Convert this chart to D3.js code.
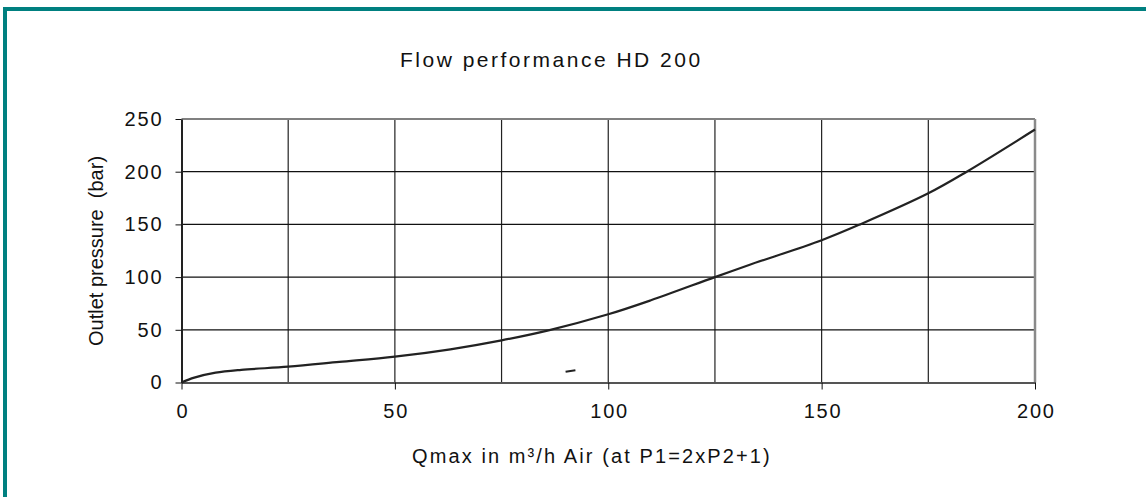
<!DOCTYPE html>
<html>
<head>
<meta charset="utf-8">
<script src="https://cdn.jsdelivr.net/npm/d3@7"></script>
<style>
  body { margin: 0; background: #fff; }
  svg text { font-family: "Liberation Sans", Arial, sans-serif; fill: #111; }
</style>
</head>
<body>
<svg id="chart" width="1146" height="497"></svg>
<script>
// flow curve
var flow = [0, 3, 8, 14, 25, 37, 50, 63, 75, 86, 100, 110, 125, 133, 150, 159, 175, 184, 200];
var pressure = [0, 4.6, 9.3, 12, 15, 19.5, 24.5, 31.5, 40, 49.5, 64.7, 78, 100, 111.5, 135, 150, 179.5, 200, 240];
// the little stray stroke under the curve
var strayFlow = [90, 92.3];
var strayPressure = [10.2, 11.6];

var xTicks = [0, 50, 100, 150, 200];
var xGrid = [25, 50, 75, 100, 125, 150, 175];
var yTicks = [0, 50, 100, 150, 200, 250];

var svg = d3.select("svg#chart"),
    margin = {top: 119, right: 111, bottom: 114.5, left: 181.5},
    width = +svg.attr("width") - margin.left - margin.right,
    height = +svg.attr("height") - margin.top - margin.bottom;

// teal frame (top and left only)
svg.append("rect").attr("x", 3).attr("y", 7).attr("width", 1143).attr("height", 4).attr("fill", "#008080");
svg.append("rect").attr("x", 3).attr("y", 7).attr("width", 4).attr("height", 490).attr("fill", "#008080");

var x = d3.scaleLinear().domain([0, 200]).range([0, width]);
var y = d3.scaleLinear().domain([0, 250]).range([height, 0]);

var g = svg.append("g")
  .attr("transform", "translate(" + margin.left + "," + margin.top + ")");

// grid
g.selectAll("line.vgrid")
  .data(xGrid)
  .enter().append("line")
  .attr("class", "vgrid")
  .attr("x1", function(d) { return x(d); })
  .attr("x2", function(d) { return x(d); })
  .attr("y1", 0).attr("y2", height)
  .attr("stroke", "#222").attr("stroke-width", 1.2);

g.selectAll("line.hgrid")
  .data(yTicks.slice(1, -1))
  .enter().append("line")
  .attr("class", "hgrid")
  .attr("y1", function(d) { return y(d); })
  .attr("y2", function(d) { return y(d); })
  .attr("x1", 0).attr("x2", width)
  .attr("stroke", "#111").attr("stroke-width", 1.2);

// plot frame
g.append("line").attr("x1", 0).attr("x2", width).attr("y1", 0).attr("y2", 0)
  .attr("stroke", "#808080").attr("stroke-width", 2);
g.append("line").attr("x1", width).attr("x2", width).attr("y1", 0).attr("y2", height)
  .attr("stroke", "#8a8a8a").attr("stroke-width", 2.5);

// axes
var xAxis = g.append("g")
  .attr("transform", "translate(0," + height + ")")
  .call(d3.axisBottom(x).tickValues(xTicks).tickSize(7).tickPadding(14).tickSizeOuter(0));
var yAxis = g.append("g")
  .call(d3.axisLeft(y).tickValues(yTicks).tickSize(6).tickPadding(14).tickSizeOuter(0));

xAxis.select(".domain").attr("stroke", "#555").attr("stroke-width", 2);
yAxis.select(".domain").attr("stroke", "#222").attr("stroke-width", 2);
svg.selectAll(".tick line").attr("stroke", "#111");
svg.selectAll(".tick text")
  .style("font-size", "20px")
  .style("letter-spacing", "1.8px")
  .attr("fill", "#111");
xAxis.selectAll(".tick text").attr("dx", "0.9px");
yAxis.selectAll(".tick text").attr("dx", "1.8px");

// curve
var line = d3.line()
  .x(function(d) { return x(d[0]); })
  .y(function(d) { return y(d[1]); })
  .curve(d3.curveCatmullRom);

g.append("path")
  .datum(d3.zip(flow, pressure))
  .attr("d", line)
  .attr("fill", "none")
  .attr("stroke", "#222")
  .attr("stroke-width", 2.2);

g.append("path")
  .datum(d3.zip(strayFlow, strayPressure))
  .attr("d", d3.line().x(function(d) { return x(d[0]); }).y(function(d) { return y(d[1]); }))
  .attr("fill", "none")
  .attr("stroke", "#222")
  .attr("stroke-width", 2.2);

// texts
svg.append("text")
  .attr("x", 400).attr("y", 67)
  .style("font-size", "21px")
  .style("letter-spacing", "2.5px")
  .text("Flow performance HD 200");

svg.append("text")
  .attr("x", 412).attr("y", 463)
  .style("font-size", "20px")
  .style("letter-spacing", "2.1px")
  .text("Qmax in m³/h Air (at P1=2xP2+1)");

svg.append("text")
  .attr("transform", "translate(103,251) rotate(-90)")
  .attr("text-anchor", "middle")
  .style("font-size", "20px")
  .style("white-space", "pre")
  .text("Outlet pressure  (bar)");
</script>
</body>
</html>
